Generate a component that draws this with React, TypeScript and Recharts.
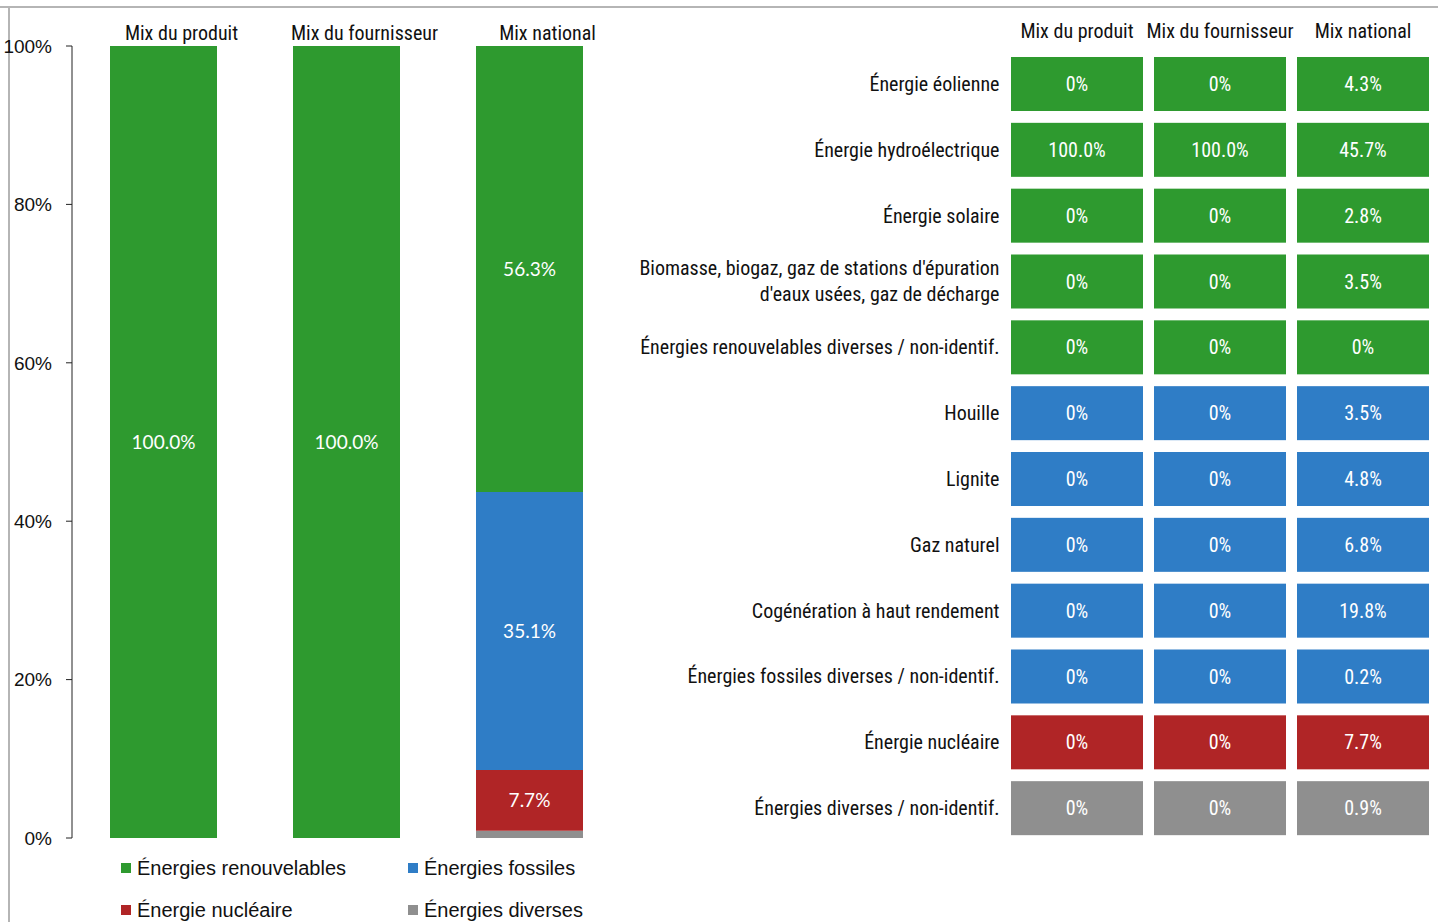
import React from "react";
import { BarChart, Bar, XAxis, YAxis, LabelList, Cell } from "recharts";

// ---- Left chart data ----
const mixCategories = ["Mix du produit", "Mix du fournisseur", "Mix national"];
const renewables = [100.0, 100.0, 56.3];
const fossils = [0, 0, 35.1];
const nuclear = [0, 0, 7.7];
const diverse = [0, 0, 0.9];
const yTicks = [0, 20, 40, 60, 80, 100];

const seriesNames = ["Énergies renouvelables", "Énergies fossiles", "Énergie nucléaire", "Énergies diverses"];
const GREEN = "#2e9a2f";
const BLUE = "#2f7dc6";
const RED = "#b02526";
const GRAY = "#8f8f8f";
const seriesColors = [GREEN, BLUE, RED, GRAY];

// ---- Right table data ----
const rowLabels = [
  "Énergie éolienne",
  "Énergie hydroélectrique",
  "Énergie solaire",
  "Biomasse, biogaz, gaz de stations d'épuration\nd'eaux usées, gaz de décharge",
  "Énergies renouvelables diverses / non-identif.",
  "Houille",
  "Lignite",
  "Gaz naturel",
  "Cogénération à haut rendement",
  "Énergies fossiles diverses / non-identif.",
  "Énergie nucléaire",
  "Énergies diverses / non-identif.",
];
const productValues = [0, 100.0, 0, 0, 0, 0, 0, 0, 0, 0, 0, 0];
const supplierValues = [0, 100.0, 0, 0, 0, 0, 0, 0, 0, 0, 0, 0];
const nationalValues = [4.3, 45.7, 2.8, 3.5, 0, 3.5, 4.8, 6.8, 19.8, 0.2, 7.7, 0.9];
const rowGroups = [0, 0, 0, 0, 0, 1, 1, 1, 1, 1, 2, 3];

const NARROW = "'Liberation Sans Narrow', 'Arial Narrow', 'Roboto Condensed', 'Liberation Sans', Arial, sans-serif";
const ARIAL = "'Liberation Sans', Arial, sans-serif";
const CALIBRI = "Lato, 'Open Sans', sans-serif";

const fmt = (v: number) => (v === 0 ? "0%" : v.toFixed(1) + "%");

const leftData = mixCategories.map((name, i) => ({
  name,
  renewables: renewables[i],
  fossils: fossils[i],
  nuclear: nuclear[i],
  diverse: diverse[i],
}));

const rightData = rowLabels.map((name, i) => ({
  name,
  product: 1,
  supplier: 1,
  national: 1,
  productLabel: fmt(productValues[i]),
  supplierLabel: fmt(supplierValues[i]),
  nationalLabel: fmt(nationalValues[i]),
  color: seriesColors[rowGroups[i]],
}));

const CellShape = (props: any) => {
  const { x, y, width, height, fill } = props;
  const inset = 5.5;
  return <rect x={x + inset} y={y} width={Math.max(0, width - 2 * inset)} height={height} fill={fill} />;
};

const TopTick = (props: any) => {
  const { x, y, payload, offset } = props;
  return (
    <text x={x + (offset || 0)} y={y} textAnchor="middle" fontFamily={NARROW} fontSize={20} fill="#111">
      {payload.value}
    </text>
  );
};

const RowTick = (props: any) => {
  const { x, y, payload } = props;
  const lines = String(payload.value).split("\n");
  const lh = 26;
  const start = -((lines.length - 1) * lh) / 2;
  return (
    <text x={x} y={y} textAnchor="end" fontFamily={NARROW} fontSize={20} fill="#111">
      {lines.map((l, i) => (
        <tspan key={i} x={x} dy={i === 0 ? start + 7 : lh}>
          {l}
        </tspan>
      ))}
    </text>
  );
};

const LegendBlock = () => (
  <div
    style={{
      position: "absolute",
      left: 121,
      top: 854,
      display: "grid",
      gridTemplateColumns: "287px 220px",
      rowGap: 14,
      fontFamily: ARIAL,
      fontSize: 20,
      color: "#111",
    }}
  >
    {seriesNames.map((n, i) => (
      <div key={n} style={{ display: "flex", alignItems: "center", height: 28 }}>
        <span style={{ display: "inline-block", width: 10, height: 10, background: seriesColors[i], marginRight: 6 }} />
        {n}
      </div>
    ))}
  </div>
);

const barLabelFmt = (v: any) => (typeof v === "number" && v >= 5 ? v.toFixed(1) + "%" : "");

export default function App() {
  return (
    <div style={{ position: "relative", width: 1438, height: 922, background: "#fff", overflow: "hidden" }}>
      <style>{"body{margin:0;}"}</style>
      <div style={{ position: "absolute", left: 0, top: 6, width: 1438, height: 2, background: "#b5b5b5" }} />
      <div style={{ position: "absolute", left: 8, top: 6, width: 2, height: 916, background: "#b5b5b5" }} />

      <div style={{ position: "absolute", left: 0, top: 0 }}>
        <BarChart
          width={621}
          height={922}
          data={leftData}
          margin={{ top: 16, right: 0, bottom: 84, left: 0 }}
          barSize={107}
        >
          <XAxis
            dataKey="name"
            orientation="top"
            height={30}
            axisLine={false}
            tickLine={false}
            interval={0}
            tick={(p: any) => <TopTick {...p} y={40} offset={18} />}
          />
          <YAxis
            type="number"
            domain={[0, 100]}
            ticks={yTicks}
            width={72}
            tickFormatter={(v: number) => v + "%"}
            tickSize={6}
            tickMargin={14}
            axisLine={{ stroke: "#222", strokeWidth: 1 }}
            tickLine={{ stroke: "#222" }}
            tick={{ fontFamily: ARIAL, fontSize: 19, fill: "#111" }}
            interval={0}
          />
          <Bar dataKey="diverse" stackId="s" fill={GRAY} isAnimationActive={false} name={seriesNames[3]} />
          <Bar dataKey="nuclear" stackId="s" fill={RED} isAnimationActive={false} name={seriesNames[2]}>
            <LabelList dataKey="nuclear" position="center" formatter={barLabelFmt} fill="#fff" fontFamily={CALIBRI} fontSize={19} />
          </Bar>
          <Bar dataKey="fossils" stackId="s" fill={BLUE} isAnimationActive={false} name={seriesNames[1]}>
            <LabelList dataKey="fossils" position="center" formatter={barLabelFmt} fill="#fff" fontFamily={CALIBRI} fontSize={19} />
          </Bar>
          <Bar dataKey="renewables" stackId="s" fill={GREEN} isAnimationActive={false} name={seriesNames[0]}>
            <LabelList dataKey="renewables" position="center" formatter={barLabelFmt} fill="#fff" fontFamily={CALIBRI} fontSize={19} />
          </Bar>
        </BarChart>
      </div>
      <LegendBlock />

      <div style={{ position: "absolute", left: 600, top: 0 }}>
        <BarChart
          width={838}
          height={922}
          data={rightData}
          layout="vertical"
          margin={{ top: 21, right: 3.5, bottom: 81, left: 0 }}
          barSize={54}
        >
          <XAxis
            type="number"
            domain={[0, 3]}
            ticks={[0.5, 1.5, 2.5]}
            orientation="top"
            height={30}
            axisLine={false}
            tickLine={false}
            interval={0}
            tick={(p: any) => (
              <TopTick {...p} y={38} offset={0} payload={{ value: mixCategories[Math.floor(p.payload.value)] }} />
            )}
          />
          <YAxis
            type="category"
            dataKey="name"
            width={405.5}
            axisLine={false}
            tickLine={false}
            interval={0}
            tick={(p: any) => <RowTick {...p} x={p.x + 6} />}
            tickMargin={6}
          />
          <Bar dataKey="product" stackId="t" isAnimationActive={false} shape={<CellShape />}>
            {rightData.map((d, i) => (
              <Cell key={i} fill={d.color} />
            ))}
            <LabelList dataKey="productLabel" position="center" fill="#fff" fontFamily={NARROW} fontSize={20} />
          </Bar>
          <Bar dataKey="supplier" stackId="t" isAnimationActive={false} shape={<CellShape />}>
            {rightData.map((d, i) => (
              <Cell key={i} fill={d.color} />
            ))}
            <LabelList dataKey="supplierLabel" position="center" fill="#fff" fontFamily={NARROW} fontSize={20} />
          </Bar>
          <Bar dataKey="national" stackId="t" isAnimationActive={false} shape={<CellShape />}>
            {rightData.map((d, i) => (
              <Cell key={i} fill={d.color} />
            ))}
            <LabelList dataKey="nationalLabel" position="center" fill="#fff" fontFamily={NARROW} fontSize={20} />
          </Bar>
        </BarChart>
      </div>
    </div>
  );
}
